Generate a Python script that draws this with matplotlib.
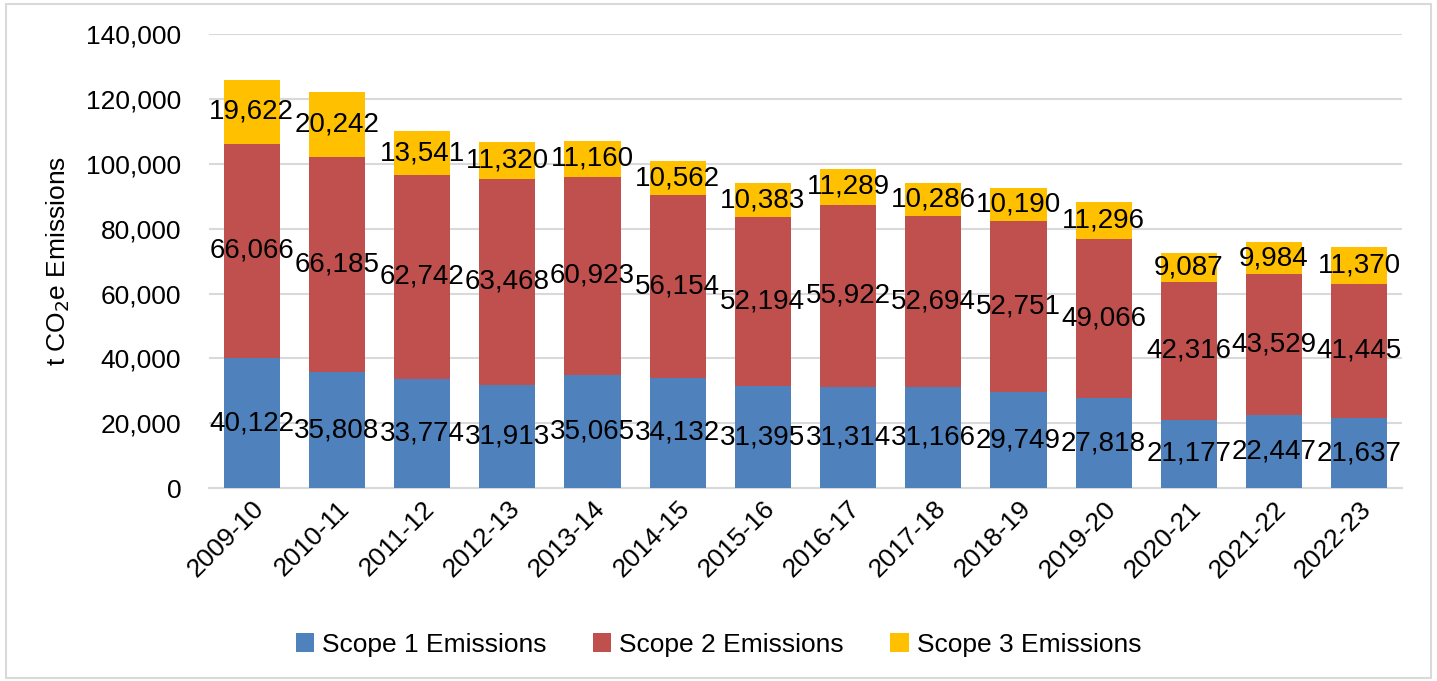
import matplotlib
matplotlib.use('Agg')
import matplotlib.pyplot as plt
import numpy as np
from matplotlib import font_manager

years = ['2009-10', '2010-11', '2011-12', '2012-13', '2013-14', '2014-15', '2015-16',
         '2016-17', '2017-18', '2018-19', '2019-20', '2020-21', '2021-22', '2022-23']
scope1 = [40122, 35808, 33774, 31913, 35065, 34132, 31395, 31314, 31166, 29749, 27818, 21177, 22447, 21637]
scope2 = [66066, 66185, 62742, 63468, 60923, 56154, 52194, 55922, 52694, 52751, 49066, 42316, 43529, 41445]
scope3 = [19622, 20242, 13541, 11320, 11160, 10562, 10383, 11289, 10286, 10190, 11296, 9087, 9984, 11370]

names = {f.name for f in font_manager.fontManager.ttflist}
axis_font = 'Liberation Sans Narrow' if 'Liberation Sans Narrow' in names else 'Liberation Sans'
label_font = 'Liberation Sans'

fig = plt.figure(figsize=(14.37, 6.81), dpi=100)
ax = fig.add_axes([0.1455, 0.283, 0.830, 0.667])

x = np.arange(len(years))
w = 0.66
b1 = ax.bar(x, scope1, w, color='#4F81BD', label='Scope 1 Emissions', zorder=3)
b2 = ax.bar(x, scope2, w, bottom=scope1, color='#C0504D', label='Scope 2 Emissions', zorder=3)
bottom3 = np.array(scope1) + np.array(scope2)
b3 = ax.bar(x, scope3, w, bottom=bottom3, color='#FFC000', label='Scope 3 Emissions', zorder=3)

# value labels sit in the middle of each segment
for bars in (b1, b2, b3):
    ax.bar_label(bars, labels=[f'{v:,}' for v in bars.datavalues], label_type='center',
                 fontsize=20, fontfamily=label_font, color='black', zorder=4)

ax.set_ylim(0, 140000)
ax.set_xlim(-0.5, len(years) - 0.5)
ax.set_yticks(np.arange(0, 140001, 20000))
ax.set_yticklabels([f'{v:,}' for v in range(0, 140001, 20000)], fontsize=19, fontfamily=axis_font)
ax.set_xticks(x)
ax.set_xticklabels(years, rotation=45, ha='right', rotation_mode='anchor', fontsize=19, fontfamily=axis_font)
ax.tick_params(length=0)
ax.tick_params(axis='y', pad=20)
ax.tick_params(axis='x', pad=6)
ax.yaxis.grid(True, color='#D9D9D9', linewidth=1.5, zorder=0)
for s in ['top', 'right', 'left']:
    ax.spines[s].set_visible(False)
ax.spines['bottom'].set_color('#D9D9D9')
ax.spines['bottom'].set_linewidth(1.5)

ax.set_ylabel('t CO$_2$e Emissions', fontsize=19, fontfamily=axis_font, labelpad=10)

fig.legend(handles=[b1, b2, b3], loc='center', bbox_to_anchor=(0.5, 0.053), ncol=3, frameon=False,
           prop={'family': axis_font, 'size': 19}, handlelength=0.7, handleheight=0.7,
           handletextpad=0.3, columnspacing=1.75)

border = plt.Rectangle((0.004, 0.004), 0.992, 0.99, transform=fig.transFigure, fill=False,
                       edgecolor='#D9D9D9', linewidth=1.5)
fig.patches.append(border)

fig.savefig('out.png', dpi=100)
